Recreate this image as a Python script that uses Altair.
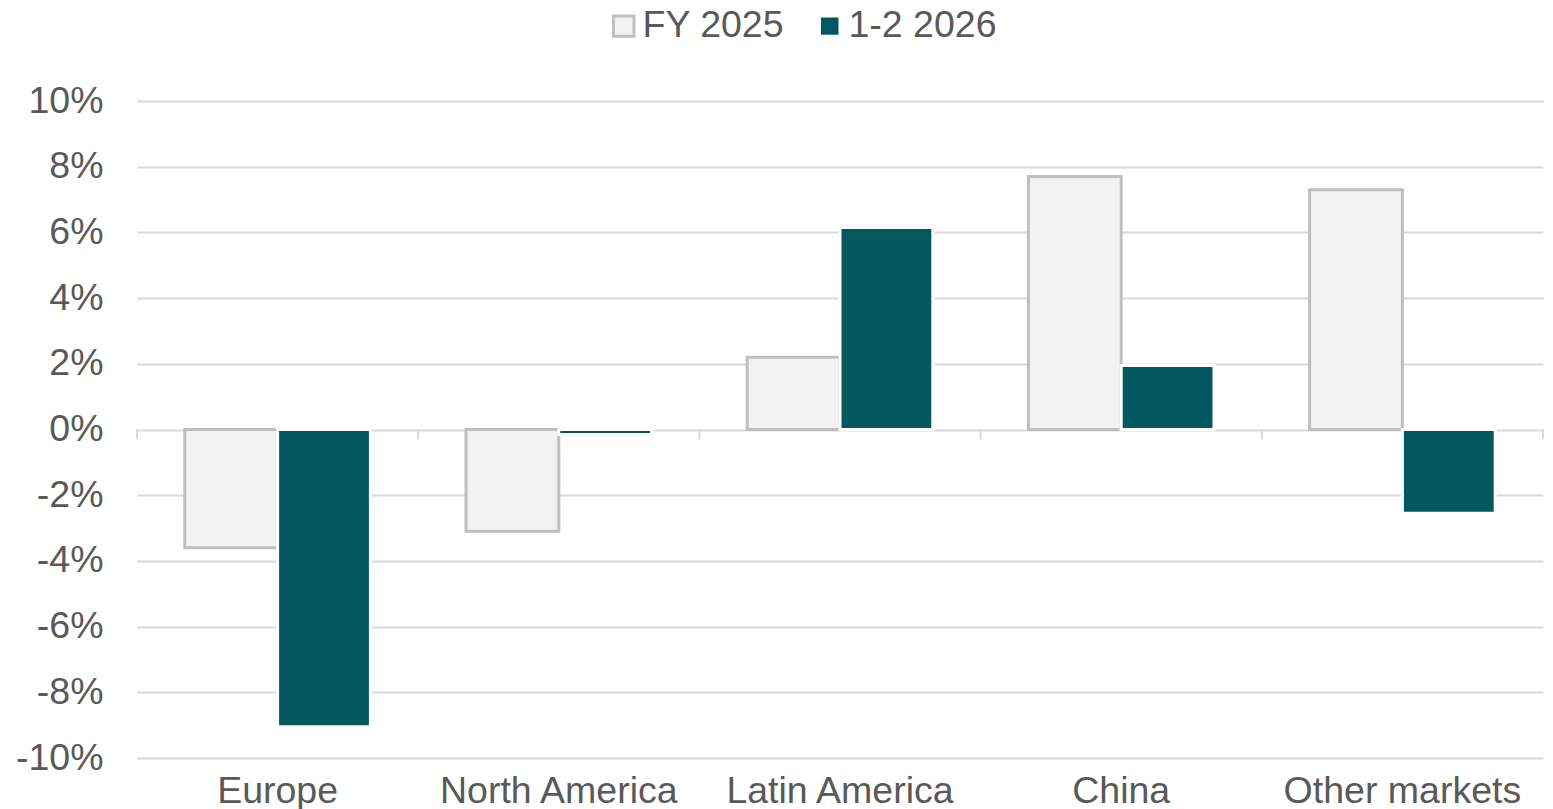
import altair as alt
import pandas as pd

regions = ["Europe", "North America", "Latin America", "China", "Other markets"]
series = ["FY 2025", "1-2 2026"]
fy2025 = [-0.036, -0.031, 0.022, 0.077, 0.073]
ytd2026 = [-0.0905, -0.0015, 0.0615, 0.0195, -0.0255]
y_ticks = [-0.10, -0.08, -0.06, -0.04, -0.02, 0.0, 0.02, 0.04, 0.06, 0.08, 0.10]

rows = []
for r, a, b in zip(regions, fy2025, ytd2026):
    rows.append({"region": r, "series": series[0], "value": a})
    rows.append({"region": r, "series": series[1], "value": b})
df = pd.DataFrame(rows)
bounds = pd.DataFrame({"region": regions})

FONT = "Liberation Sans"
FS = 37.5
TXT = "#595959"
GRID = "#d9d9d9"

yscale = alt.Scale(domain=[-0.1, 0.1], nice=False, zero=False)

legend_kw = dict(orient="none", direction="horizontal",
                 legendX=468, legendY=-94,
                 symbolType="square", symbolSize=420,
                 symbolStrokeWidth=3,
                 labelFont=FONT, labelFontSize=FS,
                 labelColor=TXT, labelOffset=0,
                 columnPadding=26)

bars = alt.Chart(df).mark_bar(strokeWidth=3).encode(
    x=alt.X("region:N", sort=regions, title=None,
            scale=alt.Scale(paddingInner=0.34, paddingOuter=0.17),
            axis=alt.Axis(labelAngle=0, domain=False, ticks=False, grid=False,
                          labelFont=FONT, labelFontSize=FS, labelColor=TXT,
                          labelPadding=14, labelLimit=0)),
    xOffset=alt.XOffset("series:N", sort=series,
                        scale=alt.Scale(paddingInner=0, paddingOuter=0)),
    y=alt.Y("value:Q", scale=yscale, title=None,
            axis=alt.Axis(values=y_ticks, format=".0%", domain=False, ticks=False,
                          labelExpr="replace(datum.label, '\u2212', '-')",
                          grid=True, gridColor=GRID, gridWidth=2,
                          labelFont=FONT, labelFontSize=FS, labelColor=TXT,
                          labelPadding=34)),
    fill=alt.Fill("series:N", sort=series, title=None,
                  scale=alt.Scale(domain=series, range=["#f2f2f2", "#03585f"]),
                  legend=alt.Legend(**legend_kw)),
    stroke=alt.Stroke("series:N", sort=series, title=None,
                      scale=alt.Scale(domain=series, range=["#bfbfbf", "#ffffff"]),
                      legend=alt.Legend(**legend_kw)),
)

ticks0 = alt.Chart(bounds).mark_rule(color=GRID, strokeWidth=2).encode(
    x=alt.X("region:N", sort=regions, bandPosition=0,
            scale=alt.Scale(padding=0), axis=None),
    y=alt.datum(0.0, scale=yscale),
    y2=alt.datum(-0.003),
)
ticks1 = alt.Chart(bounds).transform_filter(
    alt.datum.region == regions[-1]
).mark_rule(color=GRID, strokeWidth=2).encode(
    x=alt.X("region:N", sort=regions, bandPosition=1,
            scale=alt.Scale(padding=0), axis=None),
    y=alt.datum(0.0, scale=yscale),
    y2=alt.datum(-0.003),
)

chart = alt.layer(ticks0, ticks1, bars).resolve_scale(x="independent").properties(
    width=1406, height=657,
    autosize=alt.AutoSizeParams(type="none"),
    padding={"left": 129, "top": 93, "right": 2, "bottom": 51},
).configure_view(stroke=None)

chart.save("out.html", embed_options={"renderer": "svg", "actions": False})
